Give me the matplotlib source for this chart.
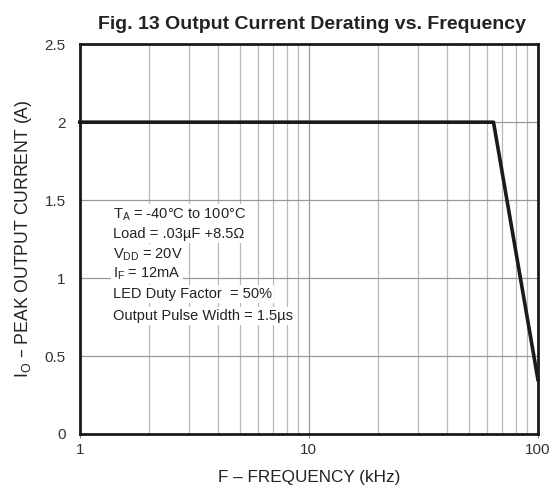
import matplotlib
matplotlib.use("Agg")
import matplotlib.pyplot as plt
from matplotlib.ticker import FixedLocator, NullFormatter

plt.rcParams['font.family'] = ['Liberation Sans', 'DejaVu Sans']
plt.rcParams['mathtext.default'] = 'regular'

freq = [1, 64, 100]          # kHz
current = [2.0, 2.0, 0.35]   # A

xticks = [1, 10, 100]
xticklabels = ['1', '10', '100']
yticks = [0, 0.5, 1, 1.5, 2, 2.5]
yticklabels = ['0', '0.5', '1', '1.5', '2', '2.5']

notes = [
    r'T$_{A}$ = -40°C to 100°C',
    'Load = .03µF +8.5Ω',
    r'V$_{DD}$ = 20V',
    r'I$_{F}$ = 12mA',
    'LED Duty Factor  = 50%',
    'Output Pulse Width = 1.5µs',
]
notes_y = [0.563, 0.512, 0.460, 0.411, 0.360, 0.302]

fig = plt.figure(figsize=(5.5, 4.86), dpi=100)
ax = fig.add_axes([0.145, 0.107, 0.833, 0.802])

ax.set_xscale('log')
ax.set_xlim(1, 100)
ax.set_ylim(0, 2.5)

minor = [m * d for d in (1, 10) for m in range(2, 10)]
ax.xaxis.set_major_locator(FixedLocator(xticks))
ax.xaxis.set_minor_locator(FixedLocator(minor))
ax.xaxis.set_minor_formatter(NullFormatter())
ax.set_xticklabels(xticklabels)
ax.set_yticks(yticks)
ax.set_yticklabels(yticklabels)

ax.grid(True, which='major', color='#999999', lw=0.9)
ax.grid(True, which='minor', axis='x', color='#b8b8b8', lw=0.9)
ax.set_axisbelow(True)

ax.tick_params(which='major', length=3, width=0.8, labelsize=11,
               color='#888888', labelcolor='#333333')
ax.tick_params(which='minor', length=0)
ax.tick_params(axis='y', length=0, pad=10)
for s in ax.spines.values():
    s.set_linewidth(2)
    s.set_color('#1a1a1a')

ax.plot(freq, current, color='#1a1a1a', lw=2.6, zorder=5, clip_on=False)

for t, y in zip(notes, notes_y):
    ax.text(0.073, y, t, transform=ax.transAxes, fontsize=10.5, va='center',
            ha='left', color='#222222', zorder=4,
            bbox=dict(facecolor='white', edgecolor='none', pad=1.5))

fig.text(0.567, 0.949, 'Fig. 13 Output Current Derating vs. Frequency',
         fontsize=14, fontweight='bold', color='#222222', ha='center', va='center')
ax.set_xlabel('F – FREQUENCY (kHz)', fontsize=12.3, color='#222222', labelpad=9)
ax.set_ylabel(r'I$_{O}$ – PEAK OUTPUT CURRENT (A)', fontsize=12.7,
              color='#222222', labelpad=8)

fig.savefig('out.png', dpi=100)
